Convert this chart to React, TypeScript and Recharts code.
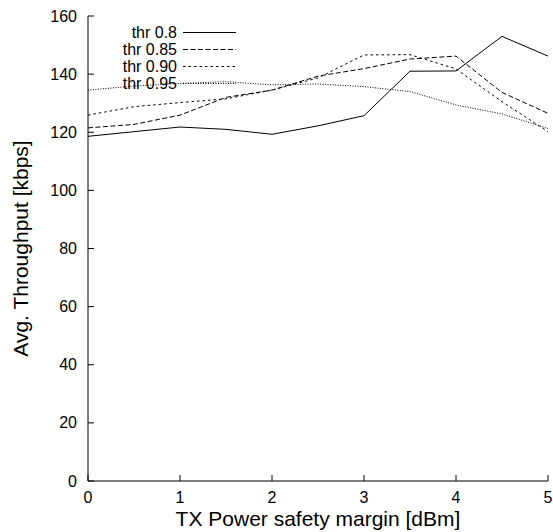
import { LineChart, Line, XAxis, YAxis, Legend } from "recharts";

const margins = [0, 0.5, 1, 1.5, 2, 2.5, 3, 3.5, 4, 4.5, 5];
const thr080 = [118.6, 120.2, 121.8, 121.0, 119.3, 122.2, 125.7, 141.0, 141.1, 153.0, 146.2];
const thr085 = [121.5, 122.7, 125.9, 132.0, 134.5, 139.3, 141.9, 145.2, 146.2, 133.7, 126.5];
const thr090 = [125.9, 128.8, 130.2, 131.5, 134.5, 138.7, 146.6, 146.7, 141.8, 130.5, 120.2];
const thr095 = [134.5, 135.9, 136.8, 137.4, 136.3, 136.6, 135.7, 134.0, 129.4, 126.3, 121.3];

const xTicks = [0, 1, 2, 3, 4, 5];
const yTicks = [0, 20, 40, 60, 80, 100, 120, 140, 160];

const seriesNames = ["thr 0.8", "thr 0.85", "thr 0.90", "thr 0.95"];
const seriesDash = ["", "5 2.5", "2.5 3", "1 1.5"];

const data = margins.map((m, i) => ({
  m,
  a: thr080[i],
  b: thr085[i],
  c: thr090[i],
  d: thr095[i],
}));

const FONT = "'Liberation Sans', Arial, sans-serif";
const TICK = 6;

const LeftTick = ({ x, y, payload }: any) => (
  <g>
    <line x1={x} x2={x + TICK} y1={y} y2={y} stroke="#000" />
    <text x={x - 11} y={y} textAnchor="end" dominantBaseline="central" fontSize={16} fontFamily={FONT} fill="#000">
      {payload.value}
    </text>
  </g>
);

const RightTick = ({ x, y }: any) => <line x1={x - TICK} x2={x} y1={y} y2={y} stroke="#000" />;

const BottomTick = ({ x, y, payload }: any) => (
  <g>
    <line x1={x} x2={x} y1={y} y2={y - TICK} stroke="#000" />
    <text x={x} y={y + 22} textAnchor="middle" fontSize={16} fontFamily={FONT} fill="#000">
      {payload.value}
    </text>
  </g>
);

const TopTick = ({ x, y }: any) => <line x1={x} x2={x} y1={y} y2={y + TICK} stroke="#000" />;

const LegendBox = ({ payload }: any) => (
  <svg width={260} height={100} style={{ display: "block" }}>
    {(payload || []).map((e: any, i: number) => {
      const base = 38 + i * 17;
      return (
        <g key={e.value}>
          <text x={177} y={base} textAnchor="end" fontSize={16} fontFamily={FONT} fill="#000">
            {e.value}
          </text>
          <line
            x1={183}
            x2={236}
            y1={base - 5.5}
            y2={base - 5.5}
            stroke="#000"
            strokeDasharray={seriesDash[seriesNames.indexOf(e.value)] || undefined}
          />
        </g>
      );
    })}
  </svg>
);

const YLabel = ({ viewBox }: any) => {
  const cx = 28;
  const cy = viewBox.y + viewBox.height / 2;
  return (
    <text x={cx} y={cy} transform={`rotate(-90 ${cx} ${cy})`} textAnchor="middle" fontSize={21} fontFamily={FONT} fill="#000">
      Avg. Throughput [kbps]
    </text>
  );
};

const XLabel = ({ viewBox }: any) => (
  <text x={viewBox.x + viewBox.width / 2} y={viewBox.y + 45} textAnchor="middle" fontSize={21} fontFamily={FONT} fill="#000">
    TX Power safety margin [dBm]
  </text>
);

export default function App() {
  return (
    <div style={{ position: "absolute", left: 0, top: 0, background: "#fff", fontFamily: FONT }}>
      <LineChart width={553} height={532} data={data} margin={{ top: 16, right: 5, bottom: 0, left: 0 }}>
        <XAxis
          dataKey="m"
          type="number"
          domain={[0, 5]}
          ticks={xTicks}
          height={51}
          tickSize={0}
          tickMargin={0}
          tickLine={false}
          axisLine={{ stroke: "#000" }}
          tick={<BottomTick />}
          label={<XLabel />}
        />
        <XAxis
          xAxisId="t"
          orientation="top"
          type="number"
          domain={[0, 5]}
          ticks={xTicks}
          height={0}
          tickSize={0}
          tickMargin={0}
          tickLine={false}
          axisLine={{ stroke: "#000" }}
          tick={<TopTick />}
        />
        <YAxis
          type="number"
          domain={[0, 160]}
          ticks={yTicks}
          width={88}
          tickSize={0}
          tickMargin={0}
          tickLine={false}
          axisLine={{ stroke: "#000" }}
          tick={<LeftTick />}
          label={<YLabel />}
        />
        <YAxis
          yAxisId="r"
          orientation="right"
          type="number"
          domain={[0, 160]}
          ticks={yTicks}
          width={0}
          tickSize={0}
          tickMargin={0}
          tickLine={false}
          axisLine={{ stroke: "#000" }}
          tick={<RightTick />}
        />
        <Legend
          layout="horizontal"
          verticalAlign="middle"
          align="center"
          wrapperStyle={{ left: 0, top: 0, width: 260, height: 100 }}
          content={<LegendBox />}
        />
        <Line dataKey="a" name={seriesNames[0]} type="linear" stroke="#000" strokeWidth={1} dot={false} isAnimationActive={false} />
        <Line dataKey="b" name={seriesNames[1]} type="linear" stroke="#000" strokeWidth={1} strokeDasharray={seriesDash[1]} dot={false} isAnimationActive={false} />
        <Line dataKey="c" name={seriesNames[2]} type="linear" stroke="#000" strokeWidth={1} strokeDasharray={seriesDash[2]} dot={false} isAnimationActive={false} />
        <Line dataKey="d" name={seriesNames[3]} type="linear" stroke="#000" strokeWidth={1} strokeDasharray={seriesDash[3]} dot={false} isAnimationActive={false} />
      </LineChart>
    </div>
  );
}
